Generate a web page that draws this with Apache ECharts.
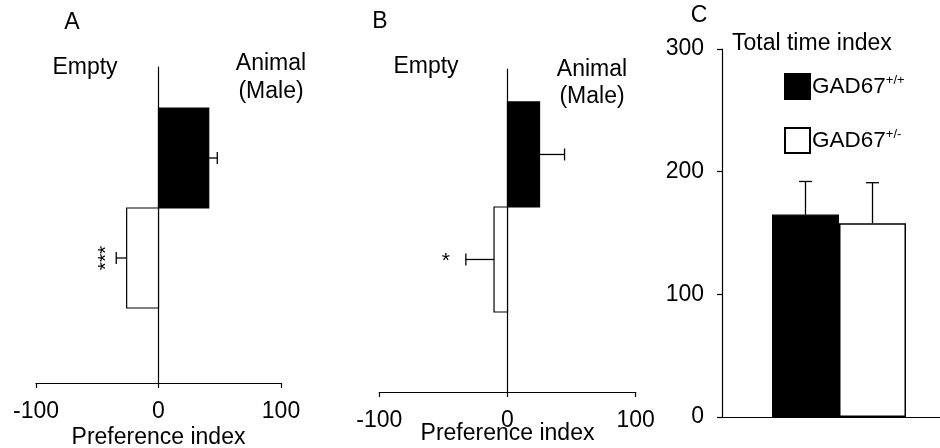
<!DOCTYPE html>
<html><head><meta charset="utf-8">
<script src="https://cdn.jsdelivr.net/npm/echarts@6/dist/echarts.min.js"></script>
<style>html,body{margin:0;padding:0;background:#fff}#c{width:940px;height:448px}</style>
</head><body><div id="c"></div>
<script>
// ---- data ----
const groups = ['GAD67+/+', 'GAD67+/-'];
const prefA = [41, -26];
const prefAErr = [7, 8.5];
const sigA = ['', '***'];
const prefB = [25, -10.5];
const prefBErr = [19.5, 22];
const sigB = ['', '*'];
const totalTime = [165, 158];
const totalTimeErr = [27, 33];
const prefTicks = [-100, 0, 100];
const totalTicks = [0, 100, 200, 300];

const FONT = 'Liberation Sans, Arial, Helvetica, sans-serif';
const FS = 23;
const fills = ['#000', '#fff'];

function prefData(vals, errs, sigs) {
  return vals.map((v, i) => [groups.length - 1 - i, v, errs[i], sigs[i], i]);
}
const prefSig = { prefA: sigA, prefB: sigB };

function makePrefRender(sigOpts) {
  return function (params, api) {
    const row = api.value(0), v = api.value(1), err = api.value(2);
    const idx = api.value(4);
    const sig = prefSig[params.seriesId][idx];
    const p0 = api.coord([0, row + 0.5]);
    const p1 = api.coord([v, row - 0.5]);
    const x = Math.min(p0[0], p1[0]), w = Math.abs(p1[0] - p0[0]);
    const y = Math.min(p0[1], p1[1]), h = Math.abs(p1[1] - p0[1]);
    const mid = api.coord([v, row]);
    const end = api.coord([v + Math.sign(v) * err, row]);
    const children = [
      { type: 'rect', shape: { x: x, y: y, width: w, height: h },
        style: { fill: fills[idx], stroke: '#000', lineWidth: 1.2 } },
      { type: 'line', shape: { x1: mid[0], y1: mid[1], x2: end[0], y2: end[1] },
        style: { stroke: '#000', lineWidth: 1.3 } },
      { type: 'line', shape: { x1: end[0], y1: end[1] - 6, x2: end[0], y2: end[1] + 6 },
        style: { stroke: '#000', lineWidth: 1.3 } }
    ];
    if (sig) {
      const o = sigOpts;
      children.push({ type: 'text', x: end[0] - o.dx, y: end[1] + o.dy, rotation: o.rot,
        style: { text: sig, font: '21px ' + FONT, fill: '#000', align: 'center', verticalAlign: 'middle' } });
    }
    return { type: 'group', children: children };
  };
}

function cErrRender(params, api) {
  const idx = api.value(3);
  const base = api.coord([api.value(0), api.value(1)]);
  const top = api.coord([api.value(0), api.value(1) + api.value(2)]);
  const cx = base[0] + (idx === 0 ? -33.5 : 33.5);
  return { type: 'group', children: [
    { type: 'line', shape: { x1: cx, y1: base[1], x2: cx, y2: top[1] }, style: { stroke: '#000', lineWidth: 1.3 } },
    { type: 'line', shape: { x1: cx - 6.5, y1: top[1], x2: cx + 6.5, y2: top[1] }, style: { stroke: '#000', lineWidth: 1.3 } }
  ]};
}

function prefXAxis(gridIndex, nameGap) {
  return {
    gridIndex: gridIndex, type: 'value', min: prefTicks[0], max: prefTicks[prefTicks.length - 1], interval: 100,
    position: 'bottom',
    axisLine: { onZero: false, lineStyle: { color: '#000', width: 1.2 } },
    axisTick: { show: true, inside: false, length: 5, lineStyle: { color: '#000', width: 1.2 } },
    splitLine: { show: false },
    axisLabel: { fontSize: FS, color: '#000', fontFamily: FONT, margin: 17 },
    name: 'Preference index', nameLocation: 'middle', nameGap: nameGap, nameMoveOverlap: false,
    nameTextStyle: { fontSize: FS, color: '#000', fontFamily: FONT, verticalAlign: 'top' }
  };
}
function prefYAxis(gridIndex, min, max) {
  return {
    gridIndex: gridIndex, type: 'value', min: min, max: max,
    axisLine: { show: true, onZero: true, lineStyle: { color: '#000', width: 1.2 } },
    axisTick: { show: false }, axisLabel: { show: false }, splitLine: { show: false }
  };
}

function txt(t, x, y, align) {
  return { type: 'text', x: x, y: y, style: { text: t, font: FS + 'px ' + FONT, fill: '#000', align: align || 'center', verticalAlign: 'middle' } };
}

const chart = echarts.init(document.getElementById('c'), null, { renderer: 'canvas' });
chart.setOption({
  animation: false,
  backgroundColor: '#fff',
  grid: [
    { left: 36, width: 245, top: 67, height: 316, outerBoundsMode: 'none', containLabel: false },
    { left: 379.3, width: 256.4, top: 69, height: 323, outerBoundsMode: 'none', containLabel: false },
    { left: 722, width: 234, top: 49, height: 368, outerBoundsMode: 'none', containLabel: false }
  ],
  xAxis: [
    prefXAxis(0, 43),
    prefXAxis(1, 30),
    { gridIndex: 2, type: 'category', data: ['Total time index'],
      axisLine: { lineStyle: { color: '#000', width: 1.2 } },
      axisTick: { show: false }, axisLabel: { show: false }, splitLine: { show: false } }
  ],
  yAxis: [
    prefYAxis(0, -1.25, 1.91),
    prefYAxis(1, -1.262, 1.814),
    { gridIndex: 2, type: 'value', min: totalTicks[0], max: totalTicks[totalTicks.length - 1], interval: 100,
      axisLine: { show: true, lineStyle: { color: '#000', width: 1.2 } },
      axisTick: { show: true, inside: false, length: 5, lineStyle: { color: '#000', width: 1.2 } },
      axisLabel: { fontSize: FS, color: '#000', fontFamily: FONT, margin: 18 },
      splitLine: { show: false } }
  ],
  legend: {
    orient: 'vertical', left: 779, top: 68, itemWidth: 25, itemHeight: 25, itemGap: 27,
    icon: 'rect', data: groups,
    formatter: function (n) { const m = n.match(/^(GAD67)(.*)$/); return '{a|' + m[1] + '}{s|' + m[2] + '}'; },
    textStyle: { color: '#000', fontFamily: FONT, padding: [0, 0, 0, -3],
      rich: { a: { fontSize: 22.5, fontFamily: FONT, color: '#000', lineHeight: 25 },
              s: { fontSize: 13, fontFamily: FONT, color: '#000', lineHeight: 15, verticalAlign: 'top' } } }
  },
  graphic: [
    txt('A', 72, 23), txt('B', 380, 22), txt('C', 699, 16),
    txt('Empty', 85, 68), txt('Animal', 271, 64), txt('(Male)', 271, 92),
    txt('Empty', 426, 67), txt('Animal', 592, 70), txt('(Male)', 592, 97),
    txt('Total time index', 732, 44, 'left')
  ],
  series: [
    { id: 'prefA', type: 'custom', xAxisIndex: 0, yAxisIndex: 0, renderItem: makePrefRender({ dx: 10, dy: 0, rot: Math.PI / 2 }),
      data: prefData(prefA, prefAErr, sigA), z: 3 },
    { id: 'prefB', type: 'custom', xAxisIndex: 1, yAxisIndex: 1, renderItem: makePrefRender({ dx: 20, dy: 2, rot: 0 }),
      data: prefData(prefB, prefBErr, sigB), z: 3 },
    { name: groups[0], type: 'bar', xAxisIndex: 2, yAxisIndex: 2, barWidth: 67, barGap: '0%',
      itemStyle: { color: '#000', borderColor: '#000', borderWidth: 1.2 }, data: [totalTime[0]] },
    { name: groups[1], type: 'bar', xAxisIndex: 2, yAxisIndex: 2, barWidth: 67, barGap: '0%',
      itemStyle: { color: '#fff', borderColor: '#000', borderWidth: 1.5 }, data: [totalTime[1]] },
    { type: 'custom', xAxisIndex: 2, yAxisIndex: 2, z: 1,
      renderItem: cErrRender,
      data: totalTime.map((v, i) => [0, v, totalTimeErr[i], i]) }
  ]
});
</script>
</body></html>
